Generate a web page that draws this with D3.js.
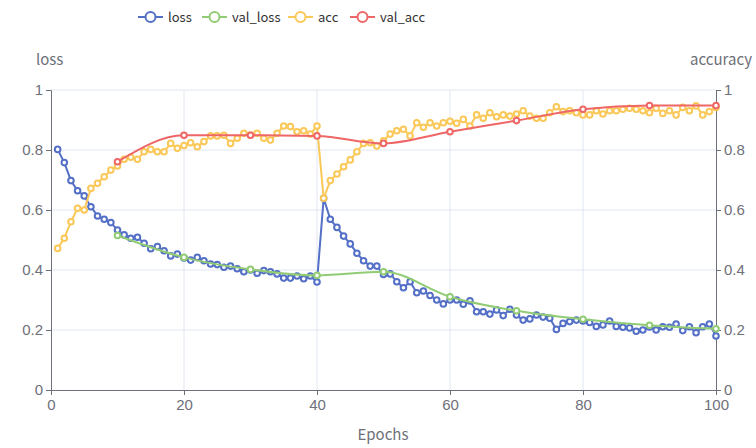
<!DOCTYPE html>
<html>
<head>
<meta charset="utf-8">
<script src="https://cdn.jsdelivr.net/npm/d3@7"></script>
<style>
  body { margin: 0; background: #fff; }
  svg { font-family: "Noto Sans CJK SC", "Noto Sans", sans-serif; }
</style>
</head>
<body>
<svg class="chart-svg" width="756" height="448"></svg>
<script>
var epochs = d3.range(1, 101);

var loss = [
  0.802, 0.758, 0.698, 0.664, 0.647, 0.611, 0.580, 0.569, 0.558, 0.533,
  0.517, 0.506, 0.509, 0.489, 0.471, 0.478, 0.464, 0.447, 0.453, 0.440,
  0.433, 0.442, 0.431, 0.420, 0.418, 0.409, 0.413, 0.404, 0.394, 0.400,
  0.389, 0.398, 0.394, 0.387, 0.373, 0.373, 0.380, 0.371, 0.380, 0.360,
  0.639, 0.569, 0.542, 0.513, 0.487, 0.456, 0.431, 0.413, 0.413, 0.385,
  0.387, 0.361, 0.341, 0.361, 0.324, 0.330, 0.315, 0.300, 0.287, 0.300,
  0.300, 0.286, 0.297, 0.261, 0.261, 0.253, 0.267, 0.248, 0.269, 0.250,
  0.233, 0.237, 0.250, 0.243, 0.239, 0.202, 0.222, 0.228, 0.233, 0.230,
  0.225, 0.212, 0.217, 0.230, 0.212, 0.209, 0.207, 0.196, 0.200, 0.210,
  0.200, 0.211, 0.209, 0.220, 0.198, 0.211, 0.191, 0.211, 0.220, 0.180
];

var acc = [
  0.472, 0.506, 0.561, 0.606, 0.600, 0.672, 0.689, 0.711, 0.733, 0.747,
  0.769, 0.776, 0.769, 0.794, 0.802, 0.794, 0.794, 0.822, 0.806, 0.815,
  0.824, 0.811, 0.828, 0.847, 0.847, 0.849, 0.822, 0.839, 0.856, 0.850,
  0.856, 0.839, 0.833, 0.856, 0.880, 0.878, 0.861, 0.864, 0.853, 0.880,
  0.639, 0.698, 0.720, 0.744, 0.767, 0.794, 0.822, 0.824, 0.813, 0.831,
  0.853, 0.864, 0.869, 0.847, 0.891, 0.876, 0.891, 0.880, 0.891, 0.896,
  0.889, 0.902, 0.880, 0.917, 0.906, 0.924, 0.911, 0.917, 0.913, 0.920,
  0.931, 0.913, 0.906, 0.906, 0.924, 0.944, 0.928, 0.931, 0.924, 0.917,
  0.917, 0.931, 0.920, 0.931, 0.931, 0.936, 0.939, 0.936, 0.931, 0.924,
  0.939, 0.922, 0.931, 0.917, 0.942, 0.931, 0.947, 0.917, 0.928, 0.942
];

var valEpochs = [10, 20, 30, 40, 50, 60, 70, 80, 90, 100];
var valLoss = [0.515, 0.442, 0.402, 0.382, 0.394, 0.311, 0.264, 0.236, 0.216, 0.204];
var valAcc = [0.761, 0.849, 0.849, 0.847, 0.822, 0.861, 0.898, 0.936, 0.948, 0.948];

var xTicks = [0, 20, 40, 60, 80, 100];
var yTicks = [0, 0.2, 0.4, 0.6, 0.8, 1];

var seriesNames = ["loss", "val_loss", "acc", "val_acc"];
var colors = ["#5470c6", "#91cc75", "#fac858", "#ee6666"];

var svg = d3.select(".chart-svg");
var axisColor = "#6E7079";

var x = d3.scaleLinear().domain([0, 100]).range([51, 716]);
var yL = d3.scaleLinear().domain([0, 1]).range([390, 90]);
var yR = d3.scaleLinear().domain([0, 1]).range([390, 90]);

// grid
svg.append("g").selectAll("line")
  .data(yTicks.slice(1)).enter()
  .append("line")
  .attr("x1", 51).attr("x2", 716)
  .attr("y1", function(d) { return yL(d); })
  .attr("y2", function(d) { return yL(d); })
  .attr("stroke", "#E0E6F1");
svg.append("g").selectAll("line")
  .data(xTicks.slice(1, -1)).enter()
  .append("line")
  .attr("y1", 90).attr("y2", 390)
  .attr("x1", function(d) { return x(d); })
  .attr("x2", function(d) { return x(d); })
  .attr("stroke", "#E0E6F1");

// axes
function styleAxis(g) {
  g.select(".domain").attr("stroke", axisColor);
  g.selectAll(".tick line").attr("stroke", axisColor);
  g.selectAll(".tick text").attr("fill", axisColor).attr("font-size", 15);
}
svg.append("g")
  .attr("transform", "translate(0,390)")
  .call(d3.axisBottom(x).tickValues(xTicks).tickSizeOuter(0).tickSize(5).tickPadding(4))
  .call(styleAxis);
svg.append("g")
  .attr("transform", "translate(51,0)")
  .call(d3.axisLeft(yL).tickValues(yTicks).tickFormat(d3.format("~g")).tickSizeOuter(0).tickSize(5).tickPadding(3))
  .call(styleAxis);
svg.append("g")
  .attr("transform", "translate(716,0)")
  .call(d3.axisRight(yR).tickValues(yTicks).tickFormat(d3.format("~g")).tickSizeOuter(0).tickSize(5).tickPadding(3))
  .call(styleAxis);

// axis names
svg.append("text").attr("x", 36).attr("y", 65).attr("fill", axisColor)
  .attr("font-size", 15).text("loss");
svg.append("text").attr("x", 752).attr("y", 65).attr("fill", axisColor)
  .attr("text-anchor", "end").attr("font-size", 15).text("accuracy");
svg.append("text").attr("x", 383).attr("y", 440).attr("fill", axisColor)
  .attr("text-anchor", "middle").attr("font-size", 15).text("Epochs");

// series
function drawSeries(xs, ys, yScale, color, smooth) {
  var pts = xs.map(function(e, i) { return [e, ys[i]]; });
  var line = d3.line()
    .x(function(d) { return x(d[0]); })
    .y(function(d) { return yScale(d[1]); })
    .curve(smooth ? d3.curveMonotoneX : d3.curveLinear);
  svg.append("path").datum(pts)
    .attr("fill", "none").attr("stroke", color)
    .attr("stroke-width", 2).attr("stroke-linejoin", "round")
    .attr("d", line);
  svg.append("g").selectAll("circle")
    .data(pts).enter()
    .append("circle")
    .attr("cx", function(d) { return x(d[0]); })
    .attr("cy", function(d) { return yScale(d[1]); })
    .attr("r", 2.8)
    .attr("fill", "#fff")
    .attr("stroke", color)
    .attr("stroke-width", 2);
}

drawSeries(epochs, loss, yL, colors[0], false);
drawSeries(valEpochs, valLoss, yL, colors[1], true);
drawSeries(epochs, acc, yR, colors[2], false);
drawSeries(valEpochs, valAcc, yR, colors[3], true);

// legend
var legendX = [138, 202, 288, 350];
var legend = svg.append("g").selectAll("g")
  .data(seriesNames).enter()
  .append("g")
  .attr("transform", function(d, i) { return "translate(" + legendX[i] + ",17)"; });
legend.append("line")
  .attr("x1", 0).attr("x2", 25)
  .attr("stroke", function(d, i) { return colors[i]; })
  .attr("stroke-width", 2);
legend.append("circle")
  .attr("cx", 12.5).attr("r", 5)
  .attr("fill", "#fff")
  .attr("stroke", function(d, i) { return colors[i]; })
  .attr("stroke-width", 2);
legend.append("text")
  .attr("x", 30).attr("y", 5)
  .attr("font-size", 13)
  .attr("fill", "#333")
  .text(function(d) { return d; });
</script>
</body>
</html>
